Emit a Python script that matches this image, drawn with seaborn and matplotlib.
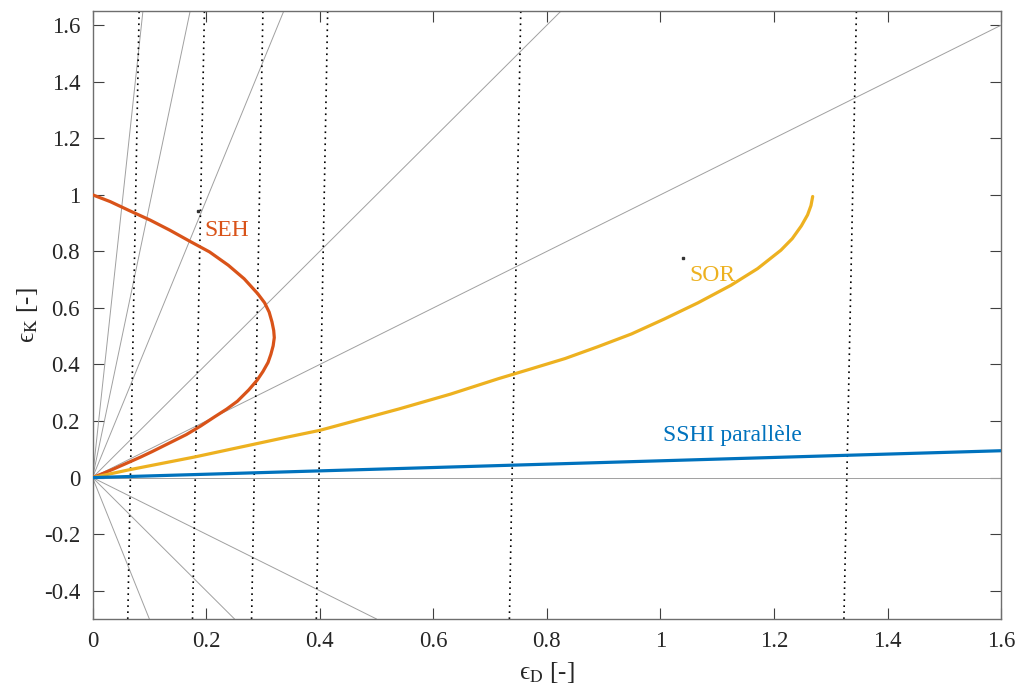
import numpy as np
import pandas as pd
import matplotlib
matplotlib.use("Agg")
import matplotlib.pyplot as plt
import seaborn as sns

# SEH curve (from (0,1) round to the origin)
seh_x = [0.0, 0.031, 0.066, 0.101, 0.136, 0.171, 0.206, 0.239, 0.267, 0.291, 0.303, 0.311, 0.316, 0.319,
         0.320, 0.318, 0.314, 0.309, 0.300, 0.290, 0.275, 0.255, 0.236, 0.215, 0.190, 0.165, 0.140,
         0.105, 0.085, 0.066, 0.040, 0.020, 0.0]
seh_y = [1.0, 0.976, 0.943, 0.911, 0.875, 0.836, 0.798, 0.751, 0.703, 0.650, 0.618, 0.585, 0.550, 0.520,
         0.495, 0.466, 0.436, 0.407, 0.375, 0.345, 0.310, 0.270, 0.242, 0.215, 0.182, 0.152, 0.127,
         0.092, 0.073, 0.056, 0.033, 0.016, 0.0]

# SOR curve
sor_x = [0.0, 0.063, 0.18, 0.34, 0.40, 0.54, 0.63, 0.715, 0.773, 0.832, 0.890, 0.949, 1.007, 1.066,
         1.124, 1.171, 1.212, 1.232, 1.248, 1.259, 1.265, 1.268]
sor_y = [0.0, 0.027, 0.073, 0.142, 0.167, 0.243, 0.295, 0.350, 0.385, 0.421, 0.463, 0.508, 0.561, 0.618,
         0.680, 0.739, 0.804, 0.845, 0.890, 0.929, 0.962, 0.994]

# SSHI parallele
sshi_x = [0.0, 1.6]
sshi_y = [0.0, 0.095]

# grey rays from the origin (slopes)
ray_slopes = [18.6, 9.6, 4.9, 2.0, 1.0, 0.0, -1.0, -2.0, -5.0]

# dotted near-vertical lines: x at the bottom and at the top of the axes
dot_bottom = [0.062, 0.176, 0.280, 0.394, 0.734, 1.323]
dot_top = [0.082, 0.197, 0.300, 0.414, 0.754, 1.345]

labels = {"SEH": (0.197, 0.875), "SOR": (1.051, 0.713), "SSHI parallèle": (1.004, 0.15)}
label_marks_x = [0.186, 1.039]
label_marks_y = [0.941, 0.777]

xticks = [0, 0.2, 0.4, 0.6, 0.8, 1, 1.2, 1.4, 1.6]
yticks = [-0.4, -0.2, 0, 0.2, 0.4, 0.6, 0.8, 1, 1.2, 1.4, 1.6]

c_red = "#D95319"
c_yel = "#EDB120"
c_blu = "#0072BD"

sns.set_theme(style="white")
plt.rcParams["font.family"] = ["Liberation Serif", "DejaVu Serif"]
plt.rcParams["mathtext.fontset"] = "stix"

fig = plt.figure(figsize=(10.17, 6.87), dpi=100)
ax = fig.add_axes([0.091, 0.099, 0.8935, 0.885])

ylo, yhi = -0.5, 1.65

for s in ray_slopes:
    ax.axline((0, 0), slope=s, color="#a0a0a0", linewidth=0.7, zorder=1)

for b, t in zip(dot_bottom, dot_top):
    ax.plot([b, t], [ylo, yhi], color="black", linestyle=(0, (1, 2.6)), linewidth=1.2, zorder=2)

sns.lineplot(x=seh_x, y=seh_y, sort=False, estimator=None, color=c_red, linewidth=2.3, ax=ax, zorder=4)
sns.lineplot(x=sor_x, y=sor_y, sort=False, estimator=None, color=c_yel, linewidth=2.3, ax=ax, zorder=4)
sns.lineplot(x=sshi_x, y=sshi_y, sort=False, estimator=None, color=c_blu, linewidth=2.3, ax=ax, zorder=4)

ax.plot(label_marks_x, label_marks_y, linestyle="none", marker="s", markersize=1.5, color="#333333")

cols = {"SEH": c_red, "SOR": c_yel, "SSHI parallèle": c_blu}
for txt, (tx, ty) in labels.items():
    ax.text(tx, ty, txt, color=cols[txt], fontsize=17, ha="left", va="center")

ax.set_xlim(0, 1.6)
ax.set_ylim(ylo, yhi)
ax.set_xticks(xticks)
ax.set_xticklabels([f"{v:g}" for v in xticks])
ax.set_yticks(yticks)
ax.set_yticklabels([f"{v:g}" for v in yticks])
ax.tick_params(direction="in", length=8, width=0.8, colors="#404040", labelcolor="#262626",
               labelsize=16.5, top=True, right=True, bottom=True, left=True, pad=9)
for sp in ax.spines.values():
    sp.set_color("#6e6e6e")
    sp.set_linewidth(1.0)

ax.set_xlabel("\u03f5" + r"$_{\mathrm{D}}$ [-]", fontsize=18, color="#262626")
ax.set_ylabel("\u03f5" + r"$_{\mathrm{K}}$ [-]", fontsize=18, color="#262626")
ax.xaxis.set_label_coords(0.5, -0.068)
ax.yaxis.set_label_coords(-0.058, 0.5)

fig.savefig("out.png", dpi=100)
